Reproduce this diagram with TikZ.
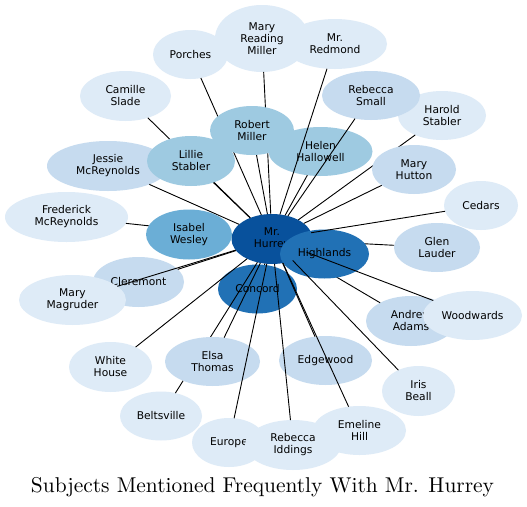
\documentclass[tikz,border=0pt]{standalone}
\usepackage{fontspec}
\usepackage{graphicx}
\usetikzlibrary{shapes.geometric}
\newfontfamily\dejavu{DejaVu Sans}
\newcommand\nodefnt{\dejavu\fontsize{10.7}{12}\selectfont}
\definecolor{cA}{HTML}{DEEBF7}
\definecolor{cB}{HTML}{C6DBEF}
\definecolor{cC}{HTML}{9ECAE1}
\definecolor{cD}{HTML}{6BAED6}
\definecolor{cE}{HTML}{2171B5}
\definecolor{cF}{HTML}{08519C}
\pgfdeclarelayer{nA}
\pgfdeclarelayer{eA}
\pgfdeclarelayer{nB}
\pgfdeclarelayer{eB}
\pgfsetlayers{nA,eA,nB,eB,main}
\tikzset{
  bub/.style={ellipse, inner sep=0pt, outer sep=0pt, draw=none, align=center, font=\nodefnt, text=black},
  link/.style={draw=black, line width=0.9pt},
}
\begin{document}
\begin{tikzpicture}[x=1pt,y=-1pt]
\useasboundingbox (0,0) rectangle (527,506);
% ---------- base nodes ----------
\begin{pgfonlayer}{nA}
\fill[white] (0,0) rectangle (527,506);
\node[bub, fill=cA, minimum width=75pt, minimum height=49pt] (porches) at (190.5,54.5) {Porches};
\node[bub, fill=cA, minimum width=94pt, minimum height=67pt] (mrm) at (262,38.5) {Mary\\Reading\\Miller};
\node[bub, fill=cA, minimum width=104pt, minimum height=50pt] (redmond) at (335,44) {Mr.\\Redmond};
\node[bub, fill=cA, minimum width=91pt, minimum height=50pt] (camille) at (125.5,96) {Camille\\Slade};
\node[bub, fill=cA, minimum width=88pt, minimum height=49pt] (harold) at (442,115.5) {Harold\\Stabler};
\node[bub, fill=cB, minimum width=98pt, minimum height=49pt] (rsmall) at (371,95.5) {Rebecca\\Small};
\node[bub, fill=cB, minimum width=122pt, minimum height=50pt] (jessie) at (108,166) {Jessie\\McReynolds};
\node[bub, fill=cC, minimum width=104pt, minimum height=49pt] (helen) at (320.5,151.5) {Helen\\Hallowell};
\node[bub, fill=cA, minimum width=74pt, minimum height=49pt] (cedars) at (481,205.5) {Cedars};
\node[bub, fill=cA, minimum width=123pt, minimum height=50pt] (frederick) at (66.5,217) {Frederick\\McReynolds};
\node[bub, fill=cF, minimum width=81pt, minimum height=50pt] (hurrey) at (272,239) {Mr.\\Hurrey};
\node[bub, fill=cB, minimum width=86pt, minimum height=49pt] (glen) at (437,247.5) {Glen\\Lauder};
\node[bub, fill=cE, minimum width=79pt, minimum height=49pt] (concord) at (257.5,289) {Concord};
\node[bub, fill=cB, minimum width=91pt, minimum height=50pt] (clermont) at (138.5,282) {Cleremont};
\node[bub, fill=cA, minimum width=107pt, minimum height=50pt] (magruder) at (72.5,300) {Mary\\Magruder};
\node[bub, fill=cB, minimum width=90pt, minimum height=50pt] (andrew) at (411,321) {Andrew\\Adams};
\node[bub, fill=cA, minimum width=99pt, minimum height=49pt] (woodwards) at (472.5,315.5) {Woodwards};
\node[bub, fill=cB, minimum width=93pt, minimum height=49pt] (edgewood) at (325.5,360.5) {Edgewood};
\node[bub, fill=cA, minimum width=83pt, minimum height=50pt] (whitehouse) at (110.5,367) {White\\House};
\node[bub, fill=cA, minimum width=73pt, minimum height=50pt] (iris) at (418.5,391) {Iris\\Beall};
\node[bub, fill=cA, minimum width=82pt, minimum height=49pt] (beltsville) at (161,416) {Beltsville};
\node[bub, fill=cA, minimum width=74pt, minimum height=49pt] (europe) at (229,442.5) {Europe};
\node[bub, fill=cA, minimum width=93pt, minimum height=49pt] (emeline) at (359.5,430.5) {Emeline\\Hill};
\node[bub, fill=cA, minimum width=96pt, minimum height=50pt] (iddings) at (293,445) {Rebecca\\Iddings};
\end{pgfonlayer}
% ---------- upper nodes ----------
\begin{pgfonlayer}{nB}
\node[bub, fill=cC, minimum width=88pt, minimum height=50pt] (lillie) at (191,161) {Lillie\\Stabler};
\node[bub, fill=cC, minimum width=84pt, minimum height=49pt] (robert) at (252,130.5) {Robert\\Miller};
\node[bub, fill=cD, minimum width=86pt, minimum height=50pt] (isabel) at (189,234.5) {Isabel\\Wesley};
\node[bub, fill=cB, minimum width=84pt, minimum height=49pt] (hutton) at (414,169.5) {Mary\\Hutton};
\node[bub, fill=cB, minimum width=95pt, minimum height=49pt] (elsa) at (212.5,361.5) {Elsa\\Thomas};
\node[bub, fill=cE, minimum width=89pt, minimum height=49pt] (highlands) at (324.5,254) {Highlands};
\end{pgfonlayer}
% ---------- connectors under the upper nodes ----------
\begin{pgfonlayer}{eA}
\foreach \n in {porches,mrm,camille,frederick,harold,beltsville,glen,andrew,robert,lillie,isabel,hutton,elsa,concord,jessie}
  \draw[link] (hurrey) -- (\n);
\end{pgfonlayer}
% ---------- connectors over the nodes ----------
\begin{pgfonlayer}{eB}
\foreach \n in {redmond,rsmall,helen,cedars,woodwards,iris,magruder,clermont,europe,iddings,emeline,edgewood,whitehouse}
  \draw[link] (hurrey) -- (\n);
\end{pgfonlayer}
% ---------- title ----------
\node[anchor=base, inner sep=0pt] (title) at (262.5,492) {\resizebox{463pt}{!}{Subjects Mentioned Frequently With Mr. Hurrey}};
\end{tikzpicture}
\end{document}
